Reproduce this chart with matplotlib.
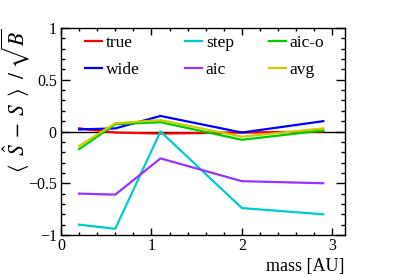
import matplotlib
matplotlib.use("Agg")
import matplotlib.pyplot as plt
from matplotlib.legend import Legend
from matplotlib.ticker import MultipleLocator, FuncFormatter

plt.rcParams['font.family'] = ['Liberation Serif', 'DejaVu Serif']
plt.rcParams['mathtext.fontset'] = 'stix'

mass = [0.2, 0.6, 1.1, 2.0, 2.9]
true_v = [0.03, -0.01, -0.02, -0.01, 0.0]
wide_v = [0.02, 0.03, 0.15, -0.01, 0.10]
step_v = [-0.90, -0.94, 0.0, -0.74, -0.80]
aic_v = [-0.60, -0.61, -0.26, -0.48, -0.50]
aico_v = [-0.17, 0.07, 0.09, -0.08, 0.01]
avg_v = [-0.14, 0.08, 0.11, -0.05, 0.03]

series = [
    ("true", true_v, "#ff0000"),
    ("wide", wide_v, "#0000ff"),
    ("step", step_v, "#00cccc"),
    ("aic", aic_v, "#9933ff"),
    ("aic-o", aico_v, "#00cc00"),
    ("avg", avg_v, "#cccc00"),
]

fig = plt.figure(figsize=(4.07, 2.77), dpi=100)
ax = fig.add_axes([61/407, 1-235/277, (345-61)/407, (235-28)/277])

ax.axhline(0, color='black', lw=1.0, zorder=1)
lines = []
for name, vals, col in series:
    ln, = ax.plot(mass, vals, color=col, lw=1.6, label=name, zorder=2)
    lines.append(ln)

ax.set_xlim(0, 3.14)
ax.set_ylim(-1, 1)
ax.xaxis.set_major_locator(MultipleLocator(1))
ax.xaxis.set_minor_locator(MultipleLocator(0.2))
ax.yaxis.set_major_locator(MultipleLocator(0.5))
ax.yaxis.set_minor_locator(MultipleLocator(0.1))

def fmt(v, pos):
    if abs(v) < 1e-9:
        return "0"
    s = ("%g" % v)
    return s.replace("-", "\u2212")
ax.xaxis.set_major_formatter(FuncFormatter(fmt))
ax.yaxis.set_major_formatter(FuncFormatter(fmt))

ax.tick_params(which='both', direction='in', top=True, right=True, labelsize=11.5, width=1.0)
ax.tick_params(axis='y', which='major', length=6.5, pad=3)
ax.tick_params(axis='y', which='minor', length=3)
ax.tick_params(axis='x', which='major', length=5, pad=2)
ax.tick_params(axis='x', which='minor', length=2.5)
for sp in ax.spines.values():
    sp.set_linewidth(1.0)

ax.set_xlabel("mass [AU]", fontsize=13, loc='right', labelpad=3)
fig.text(16/407, 1-28/277, r"$\langle\;\;\hat{S}\;-\;S\;\;\rangle\;\;/\;\sqrt{B}$",
         fontsize=15.5, rotation=90, ha='center', va='top')

col_x = [85, 185, 269]
for i, cx in enumerate(col_x):
    hs = lines[2*i:2*i+2]
    leg = Legend(ax, hs, [h.get_label() for h in hs], ncol=1, frameon=False, fontsize=12.5,
                 loc='upper left', bbox_to_anchor=((cx-61)/284, (235-35)/207),
                 borderpad=0, borderaxespad=0,
                 handlelength=1.0, handletextpad=0.2, labelspacing=0.6)
    ax.add_artist(leg)

fig.savefig("out.png", dpi=100)
